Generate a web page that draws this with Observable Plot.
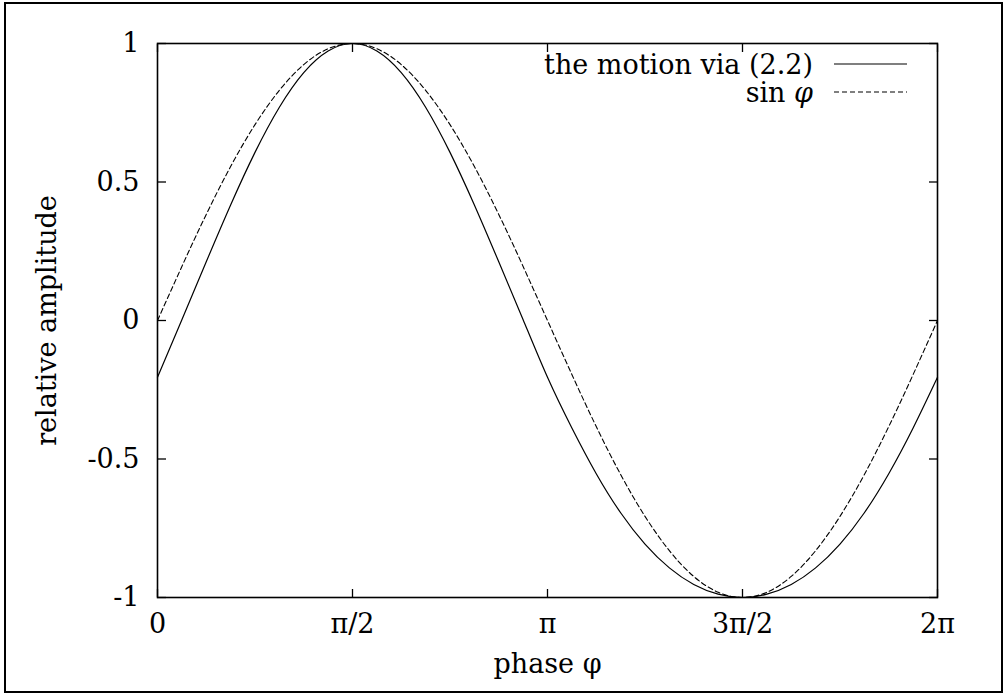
<!DOCTYPE html>
<html>
<head>
<meta charset="utf-8">
<script src="https://cdn.jsdelivr.net/npm/d3@7"></script>
<script src="https://cdn.jsdelivr.net/npm/@observablehq/plot@0.6"></script>
<style>
  html, body { margin: 0; padding: 0; background: white; }
  #wrap { position: relative; width: 1005px; height: 693px; overflow: hidden; background: white; }
  #outer { position: absolute; left: 4px; top: 2px; width: 999px; height: 691px; box-sizing: border-box; border: 2.5px solid black; pointer-events: none; }
  #legend { position: absolute; right: 98px; top: 50px; font-family: "DejaVu Serif", "Liberation Serif", serif; font-size: 27px; color: black; }
  .row { display: flex; justify-content: flex-end; align-items: center; height: 28px; line-height: 27px; }
  .row span { margin-right: 21px; white-space: nowrap; }
  .row svg { display: block; }
</style>
</head>
<body>
<div id="wrap">
  <div id="chart"></div>
  <div id="legend"></div>
  <div id="outer"></div>
</div>
<script>
// phase in units of pi (0 .. 2)
const phaseOverPi = [0, 0.0625, 0.125, 0.1875, 0.25, 0.3125, 0.375, 0.4375, 0.5, 0.5625, 0.625, 0.6875, 0.75, 0.8125, 0.875, 0.9375, 1,
  1.0625, 1.125, 1.1875, 1.25, 1.3125, 1.375, 1.4375, 1.5, 1.5625, 1.625, 1.6875, 1.75, 1.8125, 1.875, 1.9375, 2];
// "the motion via (2.2)"
const motion = [-0.205, 0.003, 0.212, 0.417, 0.607, 0.770, 0.895, 0.973, 1.000, 0.973, 0.895, 0.770, 0.607, 0.417, 0.212, 0.003, -0.205,
  -0.388, -0.553, -0.694, -0.807, -0.893, -0.953, -0.988, -1.000, -0.988, -0.953, -0.893, -0.807, -0.694, -0.553, -0.388, -0.205];
// sin(phi)
const sinPhi = [0, 0.195, 0.383, 0.556, 0.707, 0.831, 0.924, 0.981, 1.000, 0.981, 0.924, 0.831, 0.707, 0.556, 0.383, 0.195, 0,
  -0.195, -0.383, -0.556, -0.707, -0.831, -0.924, -0.981, -1.000, -0.981, -0.924, -0.831, -0.707, -0.556, -0.383, -0.195, 0];

const xTicks = [0, 0.5, 1, 1.5, 2];
const xTickLabels = ["0", "π/2", "π", "3π/2", "2π"];
const yTicks = [-1, -0.5, 0, 0.5, 1];
const yTickLabels = ["-1", "-0.5", "0", "0.5", "1"];
const seriesNames = ["the motion via (2.2)", "sin φ"];
const xLabel = "phase φ";
const yLabel = "relative amplitude";

const motionData = phaseOverPi.map((p, i) => ({p, v: motion[i]}));
const sinData = phaseOverPi.map((p, i) => ({p, v: sinPhi[i]}));

const fx = d => xTickLabels[xTicks.indexOf(d)];
const fy = d => yTickLabels[yTicks.indexOf(d)];

const chart = Plot.plot({
  width: 1005,
  height: 693,
  marginLeft: 157,
  marginRight: 68,
  marginTop: 43,
  marginBottom: 96,
  style: {fontFamily: "'DejaVu Serif', 'Liberation Serif', serif", fontSize: "27px", background: "white", color: "black", overflow: "visible"},
  x: {domain: [0, 2]},
  y: {domain: [-1, 1]},
  marks: [
    Plot.line(sinData, {x: "p", y: "v", curve: "natural", stroke: "black", strokeWidth: 1.1, strokeDasharray: "5,3"}),
    Plot.line(motionData, {x: "p", y: "v", curve: "natural", stroke: "black", strokeWidth: 1.2}),
    Plot.axisX(xTicks, {anchor: "bottom", tickSize: 0, tickPadding: 16, tickFormat: fx, label: null, fontSize: 27}),
    Plot.axisY(yTicks, {anchor: "left", tickSize: 0, tickPadding: 18, tickFormat: fy, label: null, fontSize: 27}),
    Plot.axisX(xTicks, {anchor: "bottom", tickSize: -8, tickFormat: () => "", label: null, strokeWidth: 1.3}),
    Plot.axisX(xTicks, {anchor: "top", tickSize: -8, tickFormat: () => "", label: null, strokeWidth: 1.3}),
    Plot.axisY(yTicks, {anchor: "left", tickSize: -9, tickFormat: () => "", label: null, strokeWidth: 1.3}),
    Plot.axisY(yTicks, {anchor: "right", tickSize: -9, tickFormat: () => "", label: null, strokeWidth: 1.3}),
    Plot.frame({stroke: "black", strokeWidth: 1.6}),
    Plot.text([xLabel], {frameAnchor: "bottom", dy: 67, lineAnchor: "middle", textAnchor: "middle", fontSize: 27}),
    Plot.text([yLabel], {frameAnchor: "left", rotate: -90, dx: -110, lineAnchor: "middle", textAnchor: "middle", fontSize: 27})
  ]
});
document.getElementById("chart").appendChild(chart);

// legend (gnuplot style, inside the plot at top right)
const legend = document.getElementById("legend");
const dashes = ["none", "5,3"];
seriesNames.forEach((name, i) => {
  const row = document.createElement("div");
  row.className = "row";
  const span = document.createElement("span");
  if (i === 1) {
    span.innerHTML = "sin <i>φ</i>";
  } else {
    span.textContent = name;
  }
  row.appendChild(span);
  const ns = "http://www.w3.org/2000/svg";
  const svg = document.createElementNS(ns, "svg");
  svg.setAttribute("width", "73");
  svg.setAttribute("height", "6");
  const line = document.createElementNS(ns, "line");
  line.setAttribute("x1", "0"); line.setAttribute("x2", "73");
  line.setAttribute("y1", "3"); line.setAttribute("y2", "3");
  line.setAttribute("stroke", "black");
  line.setAttribute("stroke-width", i === 0 ? "1.2" : "1.1");
  if (dashes[i] !== "none") line.setAttribute("stroke-dasharray", dashes[i]);
  svg.appendChild(line);
  row.appendChild(svg);
  legend.appendChild(row);
});
</script>
</body>
</html>
